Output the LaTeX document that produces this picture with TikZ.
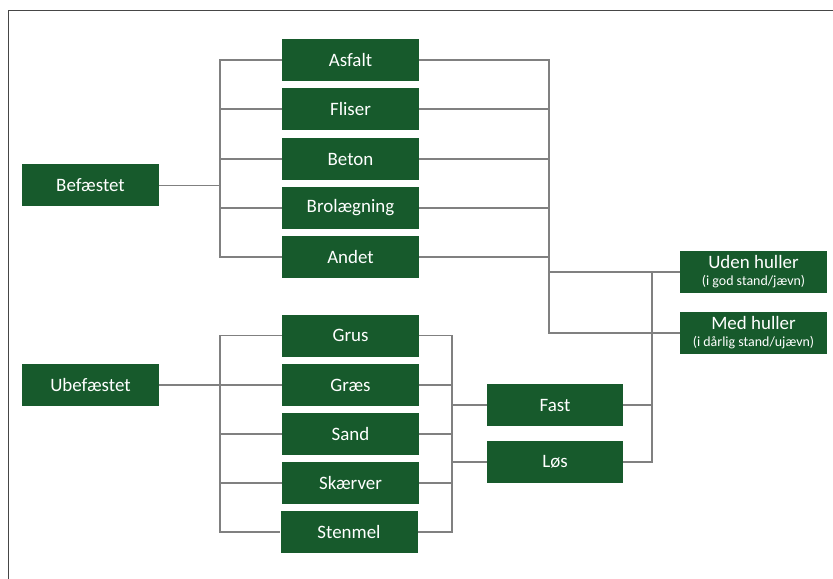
\documentclass[tikz,border=0pt]{standalone}
\usepackage{fontspec}
\setmainfont{Carlito}
\usetikzlibrary{positioning}
\definecolor{boxgreen}{RGB}{23,90,44}
\definecolor{linegray}{RGB}{128,128,128}
\definecolor{framegray}{RGB}{70,70,70}

\begin{document}
\begin{tikzpicture}[x=1bp, y=-1bp,
    box/.style={fill=boxgreen, text=white, minimum width=137bp, minimum height=42bp,
                inner sep=0pt, align=center, font=\fontsize{19}{21}\selectfont},
    link/.style={draw=linegray, line width=1.1bp}]
    \useasboundingbox (0,0) rectangle (833,579);
    \draw[framegray, line width=1bp] (833,11) -- (8,11) -- (8,579);

    % Befæstet
    \node[box] (bef) at (90.5,185.5) {Befæstet};
    \node[box] (asfalt) at (350.5,60) {Asfalt};
    \node[box] (fliser) at (350.5,109) {Fliser};
    \node[box] (beton) at (350.5,159) {Beton};
    \node[box] (brol) at (350.5,208) {Brolægning};
    \node[box] (andet) at (350.5,257) {Andet};

    % Ubefæstet
    \node[box] (ubef) at (90.5,385) {Ubefæstet};
    \node[box] (grus) at (350.5,335.5) {Grus};
    \node[box] (graes) at (350.5,385) {Græs};
    \node[box] (sand) at (350.5,434) {Sand};
    \node[box] (skaer) at (350.5,483) {Skærver};
    \node[box] (stenmel) at (349,532) {Stenmel};

    \node[box, minimum width=136bp] (fast) at (555,405) {Fast};
    \node[box, minimum width=136bp] (los) at (555,462) {Løs};

    \node[box, minimum width=147bp] (uden) at (753.5,272)
        {Uden huller\\[-4bp]{\fontsize{14}{15}\selectfont(i god stand/jævn)}};
    \node[box, minimum width=147bp] (med) at (753.5,333)
        {Med huller\\[-4bp]{\fontsize{14}{15}\selectfont(i dårlig stand/ujævn)}};

    \coordinate (bb) at (220,185.5);
    \coordinate (rb) at (549,272);
    \coordinate (ub) at (220,385);
    \coordinate (ux) at (452,405);
    \coordinate (hb) at (652,272);

    \draw[link] (bef) -- (bb);
    \draw[link] (bb) |- (asfalt.west);
    \draw[link] (bb) |- (fliser.west);
    \draw[link] (bb) |- (beton.west);
    \draw[link] (bb) |- (brol.west);
    \draw[link] (bb) |- (andet.west);
    \draw[link] (asfalt.east) -| (rb);
    \draw[link] (fliser.east) -| (rb);
    \draw[link] (beton.east) -| (rb);
    \draw[link] (brol.east) -| (rb);
    \draw[link] (andet.east) -| (rb);
    \draw[link] (rb) -- (uden.west);
    \draw[link] (rb) |- (med.west);

    \draw[link] (ubef) -- (ub);
    \draw[link] (ub) |- (grus.west);
    \draw[link] (ub) |- (graes.west);
    \draw[link] (ub) |- (sand.west);
    \draw[link] (ub) |- (skaer.west);
    \draw[link] (ub) |- (stenmel.west);
    \draw[link] (grus.east) -| (ux);
    \draw[link] (graes.east) -| (ux);
    \draw[link] (sand.east) -| (ux);
    \draw[link] (skaer.east) -| (ux);
    \draw[link] (stenmel.east) -| (ux);
    \draw[link] (ux) -- (fast.west);
    \draw[link] (ux |- los.west) -- (los.west);
    \draw[link] (fast.east) -| (hb);
    \draw[link] (los.east) -| (hb);
\end{tikzpicture}
\end{document}
